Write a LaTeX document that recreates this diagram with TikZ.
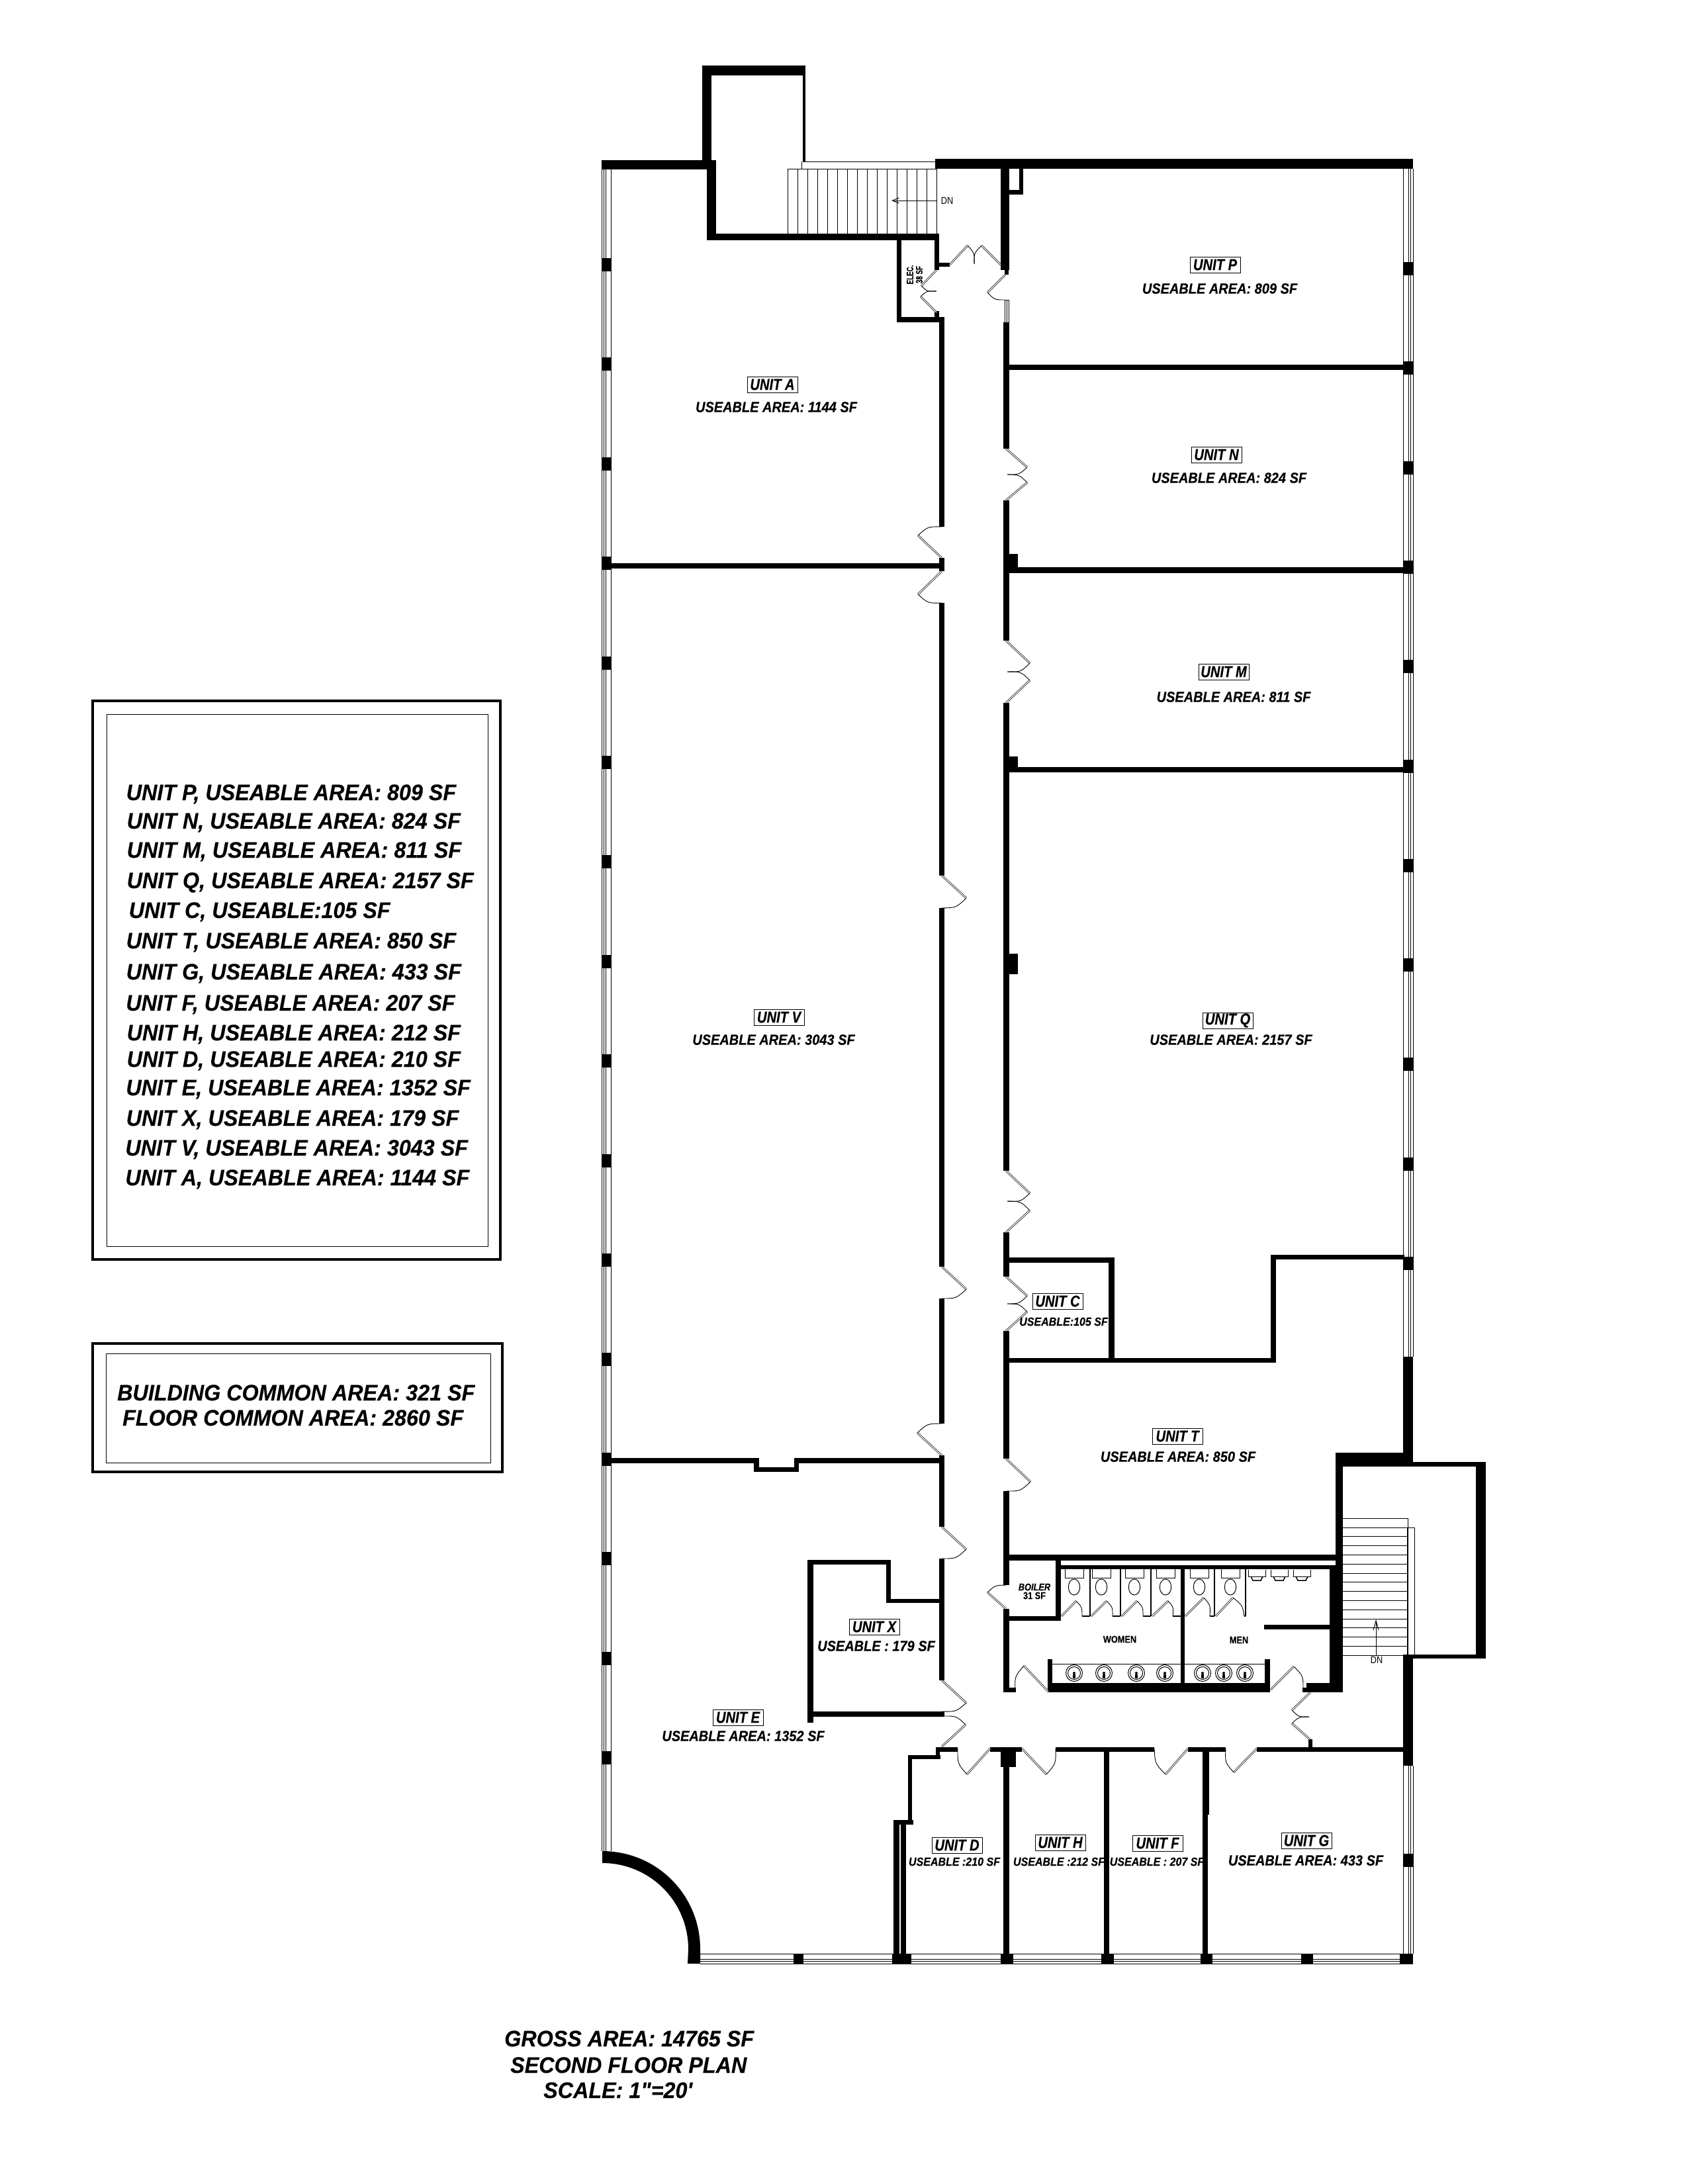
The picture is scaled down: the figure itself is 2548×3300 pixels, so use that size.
\documentclass[tikz,border=0pt]{standalone}
\usepackage{fontspec}
\setmainfont{Liberation Sans}[BoldItalicFeatures={FakeBold=.3}, BoldFeatures={FakeBold=.2}]
\newfontfamily\legendFont{Liberation Sans}[FakeStretch=.95, BoldItalicFeatures={FakeBold=.3}]
\newfontfamily\areaFont{Liberation Sans}[FakeStretch=.9, BoldItalicFeatures={FakeBold=.4}]
\newfontfamily\unitFont{Liberation Sans}[FakeStretch=.84, BoldItalicFeatures={FakeBold=.4}]
\newfontfamily\tinyFont{Liberation Sans}[FakeStretch=.85, BoldFeatures={FakeBold=.2}, BoldItalicFeatures={FakeBold=.3}]
\newfontfamily\elecFont{Liberation Sans}[FakeStretch=.7, BoldFeatures={FakeBold=.1}]
\usetikzlibrary{arrows.meta}

\tikzset{
    legendText/.style={anchor=west, inner sep=0pt, text height=22pt, text depth=0pt, font=\legendFont\fontsize{34}{35}\selectfont\bfseries\itshape},
    unitBox/.style={draw, line width=1pt, inner sep=0pt, minimum width=76pt, minimum height=24pt, font=\unitFont\fontsize{24}{25}\selectfont\bfseries\itshape},
    areaText/.style={inner sep=0pt, font=\areaFont\fontsize{22.2}{23}\selectfont\bfseries\itshape},
    smallArea/.style={inner sep=0pt, font=\areaFont\fontsize{17.8}{19}\selectfont\bfseries\itshape},
    tinyText/.style={inner sep=0pt, font=\tinyFont\fontsize{15}{16}\selectfont},
    elecText/.style={inner sep=0pt, rotate=90, font=\elecFont\fontsize{14}{15}\selectfont\bfseries},
    doorLeaf/.style={double, line width=.7pt, double distance=1.3pt},
    doorSwing/.style={line width=.9pt},
    thinLine/.style={line width=1pt},
    frameOuter/.style={line width=4pt},
    frameInner/.style={line width=.8pt}
}

\newcommand{\swingDoor}[6]{
    \pgfmathsetmacro{\ctlX}{#1+1.17*((#3+#5)/2-#1)}
    \pgfmathsetmacro{\ctlY}{#2+1.17*((#4+#6)/2-#2)}
    \draw[doorLeaf] (#1,#2) -- (#3,#4);
    \draw[doorSwing] (#3,#4) .. controls (\ctlX,\ctlY) .. (#5,#6);
}

\begin{document}
\begin{tikzpicture}[x=1pt, y=-1pt]
    \useasboundingbox (0,0) rectangle (2548,3300);

    \foreach \xa/\ya/\xb/\yb in {
        909/242/1082/256, 1061/99/1075/243, 1061/99/1217/114, 1213/114/1217/245,
        1068/243/1082/363, 1068/353/1419/363, 1355/363/1362/487, 1412/353/1419/408,
        1419/397/1435/403, 1355/479/1426/487, 1412/470/1419/479, 1413/240/2135/255,
        1512/255/1525/408, 1518/408/1524/415, 1540/255/1546/294, 1524/287/1546/294,
        1516/487/1525/678, 1525/551/2121/559, 1516/756/1525/968, 1525/837/1538/866,
        1525/857/2121/866, 1516/1062/1525/1769, 1525/1143/1538/1167, 1525/1159/2121/1167,
        1525/1441/1538/1472, 1516/1862/1525/1929, 1525/1900/1684/1908, 1675/1900/1684/2059,
        1516/2011/1525/2204, 1525/2052/1928/2059, 1920/1896/1928/2059, 1920/1896/2122/1903,
        1516/2253/1525/2395, 1525/2349/2029/2358, 1595/2358/1603/2449, 1525/2442/1603/2449,
        1603/2365/2011/2371, 1516/2431/1525/2557, 1516/2550/1535/2557, 1784/2371/1790/2557,
        1583/2507/1590/2557, 1584/2543/1919/2557, 1911/2507/1919/2557, 1910/2455/2011/2462,
        2009/2365/2029/2557, 1974/2543/2029/2557, 1968/2550/1974/2557, 2018/2195/2029/2557,
        2018/2195/2135/2216, 2120/2050/2135/2216, 2135/2209/2245/2216, 2230/2209/2245/2506,
        2120/2500/2245/2506, 2120/2500/2135/2668, 1420/2640/1447/2647, 1496/2640/1544/2647,
        1595/2640/1744/2647, 1795/2640/1852/2647, 1899/2640/2120/2647, 1977/2628/1983/2640,
        1512/2647/1535/2670, 1516/2670/1525/2952, 1668/2647/1676/2952, 1817/2647/1827/2742,
        1817/2742/1825/2952, 1414/2640/1420/2658, 1372/2652/1421/2658, 1372/2652/1378/2757,
        1350/2750/1380/2757, 1350/2757/1359/2952, 1361/2757/1369/2952,
        1419/479/1427/796, 1419/843/1427/863, 1419/911/1427/1323, 1419/1372/1427/1914,
        1419/1962/1427/2151, 1419/2199/1427/2307, 1419/2355/1427/2539, 1419/2586/1427/2594,
        923/851/1419/859, 923/2203/1147/2211, 1139/2203/1147/2224, 1139/2217/1207/2224,
        1200/2203/1207/2224, 1200/2203/1419/2211, 1220/2357/1229/2603, 1220/2357/1346/2364,
        1339/2357/1346/2422, 1339/2416/1420/2422, 1229/2586/1427/2594,
        1199/2952/1214/2967, 1348/2952/1377/2967, 1512/2952/1531/2967, 1664/2952/1683/2967,
        1814/2952/1832/2967, 1966/2952/1984/2967, 2115/2952/2135/2967}
        \fill (\xa,\ya) rectangle (\xb,\yb);

    \fill (910,2797) .. controls (992,2797) and (1058,2863) .. (1058,2945) -- (1058,2967) -- (1039,2967) -- (1040,2945) .. controls (1040,2873) and (982,2815) .. (910,2815) -- cycle;

    \foreach \xpos in {909, 912, 915, 923}
        \draw[thinLine] (\xpos,256) -- (\xpos,2797);
    \foreach \xpos in {2120.5, 2128, 2131, 2135}
        \draw[thinLine] (\xpos,255) -- (\xpos,2050) (\xpos,2668) -- (\xpos,2952);
    \foreach \ypos in {2952, 2960, 2963, 2967}
        \draw[thinLine] (1058,\ypos) -- (2135,\ypos);
    \foreach \idx in {0,...,15}
        \fill (909,400+150.4*\idx-10) rectangle (923,400+150.4*\idx+10);
    \foreach \idx in {0,...,10,16}
        \fill (2120,406+150.3*\idx-10) rectangle (2135,406+150.3*\idx+10);
    \draw[thinLine] (1518,453) rectangle (1524,487) (1521,453) -- (1521,487);

    \foreach \hx/\hy/\tx/\ty/\ex/\ey in {
        1435/400/1462/371/1472/399, 1512/400/1483/371/1472/399, 1415/408/1392/432/1415/440,
        1415/472/1391/448/1415/440, 1519/415/1492/442/1518/453, 1520/678/1552/706/1522/717,
        1520/756/1552/729/1522/717, 1423/843/1387/809/1423/796, 1423/863/1387/898/1423/911,
        1520/968/1556/1002/1522/1015, 1520/1062/1556/1028/1522/1015, 1423/1323/1460/1357/1423/1372,
        1520/1769/1556/1803/1522/1815, 1520/1862/1556/1829/1522/1815, 1423/1914/1460/1948/1423/1962,
        1520/1929/1552/1958/1522/1970, 1520/2011/1552/1982/1522/1970, 1423/2199/1386/2165/1423/2151,
        1520/2204/1557/2239/1520/2253, 1423/2307/1460/2341/1423/2355, 1520/2431/1492/2406/1520/2395,
        1423/2539/1460/2573/1423/2586, 1423/2639/1459/2606/1425/2593, 1496/2642/1461/2681/1447/2642,
        1544/2642/1581/2681/1595/2642, 1795/2642/1761/2681/1744/2642, 1899/2642/1864/2678/1852/2642,
        1584/2556/1547/2517/1534/2556, 1920/2553/1955/2518/1969/2553, 1980/2557/1952/2584/1978/2594,
        1979/2628/1952/2604/1978/2594, 1604/2442/1626/2419/1635/2442, 1649/2442/1672/2419/1681/2442,
        1695/2442/1718/2419/1727/2442, 1741/2442/1765/2419/1772/2442, 1791/2442/1819/2414/1828/2442,
        1837/2442/1863/2414/1880/2442}
        {\swingDoor{\hx}{\hy}{\tx}{\ty}{\ex}{\ey}}

    \draw[thinLine] (1214,244) -- (1413,244) (1211,244) -- (1211,256) (1190,255) -- (1415,255);
    \foreach \idx in {0,...,15}
        \draw[thinLine] (1190+15*\idx,255) -- (1190+15*\idx,353);
    \draw[thinLine, -{Straight Barb[length=10pt,width=8pt]}] (1416,303) -- (1347,303);
    \node[tinyText] (dnNorth) at (1431,303) {DN};

    \foreach \idx in {0,...,15}
        \draw[thinLine] (2029,2294.3+13.8*\idx) -- (2128,2294.3+13.8*\idx);
    \draw[line width=2pt] (2127,2308) -- (2127,2501);
    \draw[thinLine] (2127,2294) -- (2127,2308) -- (2137,2308) -- (2137,2501);
    \draw[thinLine, -{Straight Barb[length=14pt,width=8pt]}] (2079,2501) -- (2079,2447);
    \node[tinyText] (dnEast) at (2080,2508) {DN};

    \foreach \xpos in {1647, 1693, 1739, 1835, 1882}
        \draw[line width=1.5pt] (\xpos,2371) -- (\xpos,2442);
    \foreach \xa/\xb in {1635/1647, 1681/1693, 1727/1739, 1772/1784, 1828/1835, 1880/1882}
        \draw[line width=2pt] (\xa,2442) -- (\xb,2442);
    \foreach \xpos in {1623, 1664, 1714, 1761, 1812, 1859} {
        \draw[thinLine] (\xpos-14,2371) -- (\xpos-14,2384) -- (\xpos+14,2384) -- (\xpos+14,2371);
        \draw[thinLine] (\xpos,2398) ellipse [x radius=8.7, y radius=12];
    }
    \foreach \xpos in {1899, 1933, 1967} {
        \draw[thinLine] (\xpos-13,2372) -- (\xpos-13,2382) -- (\xpos+13,2382) -- (\xpos+13,2372);
        \draw[line width=1.5pt] (\xpos-9,2382) -- (\xpos-6,2388) -- (\xpos+6,2388) -- (\xpos+9,2382);
    }
    \draw[thinLine] (1590,2514) -- (1912,2514);
    \foreach \xpos in {1623, 1668, 1717, 1760, 1817, 1849, 1881} {
        \draw[thinLine] (\xpos,2528) circle [radius=12.5];
        \draw[thinLine] (\xpos,2528) circle [radius=9.5];
        \fill (\xpos,2528) circle [radius=2];
        \fill (\xpos-2,2530) rectangle (\xpos+2,2536);
    }

    \node[tinyText] (roomWomen) at (1692,2477) {\bfseries WOMEN};
    \node[tinyText] (roomMen) at (1872,2478) {\bfseries MEN};
    \node[tinyText] (roomBoiler) at (1563,2398) {\bfseries\itshape BOILER};
    \node[tinyText] (areaBoiler) at (1563,2411) {\bfseries 31 SF};
    \node[elecText] (roomElec) at (1375,415) {ELEC.};
    \node[elecText] (areaElec) at (1389,415) {38 SF};

    \node[unitBox] (unitP) at (1836,400) {UNIT P};
    \node[areaText] (areaP) at (1843,436) {USEABLE AREA: 809 SF};
    \node[unitBox] (unitN) at (1838,687) {UNIT N};
    \node[areaText] (areaN) at (1857,722) {USEABLE AREA: 824 SF};
    \node[unitBox] (unitM) at (1849,1015) {UNIT M};
    \node[areaText] (areaM) at (1864,1053) {USEABLE AREA: 811 SF};
    \node[unitBox] (unitQ) at (1855,1542) {UNIT Q};
    \node[areaText] (areaQ) at (1860,1571) {USEABLE AREA: 2157 SF};
    \node[unitBox] (unitV) at (1177,1537) {UNIT V};
    \node[areaText] (areaV) at (1169,1571) {USEABLE AREA: 3043 SF};
    \node[unitBox] (unitA) at (1167,581) {UNIT A};
    \node[areaText] (areaA) at (1173,615) {USEABLE AREA: 1144 SF};
    \node[unitBox] (unitC) at (1598,1966) {UNIT C};
    \node[smallArea] (areaC) at (1607,1997) {USEABLE:105 SF};
    \node[unitBox] (unitT) at (1779,2170) {UNIT T};
    \node[areaText] (areaT) at (1780,2201) {USEABLE AREA: 850 SF};
    \node[unitBox] (unitX) at (1321,2458) {UNIT X};
    \node[areaText] (areaX) at (1324,2487) {USEABLE : 179 SF};
    \node[unitBox] (unitE) at (1115,2595) {UNIT E};
    \node[areaText] (areaE) at (1123,2623) {USEABLE AREA: 1352 SF};
    \node[unitBox] (unitD) at (1446,2788) {UNIT D};
    \node[smallArea] (areaD) at (1442,2813) {USEABLE :210 SF};
    \node[unitBox] (unitH) at (1602,2784) {UNIT H};
    \node[smallArea] (areaH) at (1600,2813) {USEABLE :212 SF};
    \node[unitBox] (unitF) at (1749,2785) {UNIT F};
    \node[smallArea] (areaF) at (1748,2813) {USEABLE : 207 SF};
    \node[unitBox] (unitG) at (1974,2781) {UNIT G};
    \node[areaText] (areaG) at (1973,2811) {USEABLE AREA: 433 SF};

    \draw[frameOuter] (140,1059) rectangle (756,1903);
    \draw[frameInner] (161,1079) rectangle (737,1883);
    \draw[frameOuter] (140,2030) rectangle (759,2224);
    \draw[frameInner] (160,2045) rectangle (741,2210);

    \node[legendText] (legendP) at (190.6,1198) {UNIT P, USEABLE AREA: 809 SF};
    \node[legendText] (legendN) at (191.5,1241) {UNIT N, USEABLE AREA: 824 SF};
    \node[legendText] (legendM) at (191.5,1285) {UNIT M, USEABLE AREA: 811 SF};
    \node[legendText] (legendQ) at (191.5,1331) {UNIT Q, USEABLE AREA: 2157 SF};
    \node[legendText] (legendC) at (194.6,1376) {UNIT C, USEABLE:105 SF};
    \node[legendText] (legendT) at (190.6,1422) {UNIT T, USEABLE AREA: 850 SF};
    \node[legendText] (legendG) at (190.6,1469) {UNIT G, USEABLE AREA: 433 SF};
    \node[legendText] (legendF) at (190.2,1516) {UNIT F, USEABLE AREA: 207 SF};
    \node[legendText] (legendH) at (191.5,1561) {UNIT H, USEABLE AREA: 212 SF};
    \node[legendText] (legendD) at (191.5,1601) {UNIT D, USEABLE AREA: 210 SF};
    \node[legendText] (legendE) at (190.2,1644) {UNIT E, USEABLE AREA: 1352 SF};
    \node[legendText] (legendX) at (190.6,1690) {UNIT X, USEABLE AREA: 179 SF};
    \node[legendText] (legendV) at (189.3,1735) {UNIT V, USEABLE AREA: 3043 SF};
    \node[legendText] (legendA) at (189.3,1780) {UNIT A, USEABLE AREA: 1144 SF};

    \node[legendText] (buildingCommon) at (177,2105) {BUILDING COMMON AREA: 321 SF};
    \node[legendText] (floorCommon) at (185,2143) {FLOOR COMMON AREA: 2860 SF};

    \node[legendText] (grossArea) at (762,3081) {GROSS AREA: 14765 SF};
    \node[legendText] (planTitle) at (771,3121) {SECOND FLOOR PLAN};
    \node[legendText] (planScale) at (821,3159) {SCALE: 1\char34=20\char39};
\end{tikzpicture}
\end{document}
